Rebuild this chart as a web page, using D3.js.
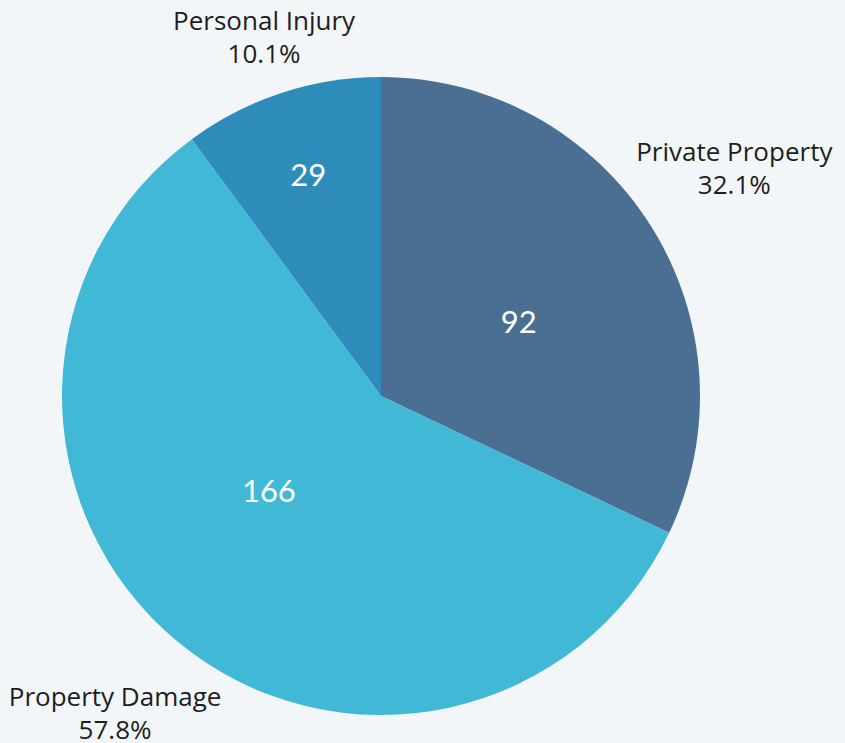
<!DOCTYPE html>
<html>
<head>
<meta charset="utf-8">
<script src="https://cdn.jsdelivr.net/npm/d3@7"></script>
<style>
  html, body { margin: 0; padding: 0; background: #f3f6f9; overflow: hidden; }
</style>
</head>
<body>
<svg id="chart"></svg>
<script>
// chart data
const categories = ['Private Property', 'Property Damage', 'Personal Injury'];
const values = [92, 166, 29];
const percentLabels = ['32.1%', '57.8%', '10.1%'];
const colors = ['#4a6f92', '#42b8d7', '#2d8cba'];

const width = 845, height = 743;
const cx = 381, cy = 396, radius = 319;

const svg = d3.select('#chart')
  .attr('width', width)
  .attr('height', height);

const g = svg.append('g')
  .attr('transform', `translate(${cx},${cy})`);

const pie = d3.pie().sort(null).value(d => d.value);
const data = categories.map((c, i) => ({ name: c, value: values[i], pct: percentLabels[i], color: colors[i] }));
const arcs = pie(data);

const arc = d3.arc().innerRadius(0).outerRadius(radius);

// slices
g.selectAll('path')
  .data(arcs)
  .enter()
  .append('path')
  .attr('d', arc)
  .attr('fill', d => d.data.color);

// value labels inside slices
g.selectAll('text.value')
  .data(arcs)
  .enter()
  .append('text')
  .attr('class', 'value')
  .attr('transform', d => {
    const span = d.endAngle - d.startAngle;
    let r, shift;
    if (span < 1) { r = radius * 0.73; shift = 0; }
    else if (span < 3) { r = radius * 0.49; shift = 0.07; }
    else { r = radius * 0.46; shift = 0.18; }
    const a = (d.startAngle + d.endAngle) / 2 + shift;
    return `translate(${Math.sin(a) * r},${-Math.cos(a) * r})`;
  })
  .attr('text-anchor', 'middle')
  .attr('dy', '0.36em')
  .style('font-family', 'Lato, sans-serif')
  .style('font-weight', 400)
  .style('font-size', '31px')
  .style('fill', '#ffffff')
  .text(d => d.data.value);

// outer category labels
const labelR = 418;
const outer = g.selectAll('g.label')
  .data(arcs)
  .enter()
  .append('g')
  .attr('class', 'label')
  .attr('transform', d => {
    const a = (d.startAngle + d.endAngle) / 2;
    let x = Math.sin(a) * labelR;
    let y = -Math.cos(a) * labelR;
    if (y + cy < 42) {
      y = 42 - cy;
      x = Math.sin(a) * 381 + 2;
    }
    return `translate(${x},${y})`;
  });

outer.append('text')
  .attr('text-anchor', 'middle')
  .attr('y', -12)
  .style('font-family', '"Open Sans", sans-serif')
  .style('font-size', '26px')
  .style('fill', '#1e1e1e')
  .text(d => d.data.name);

outer.append('text')
  .attr('text-anchor', 'middle')
  .attr('y', 21)
  .style('font-family', '"Open Sans", sans-serif')
  .style('font-size', '26px')
  .style('fill', '#1e1e1e')
  .text(d => d.data.pct);
</script>
</body>
</html>
